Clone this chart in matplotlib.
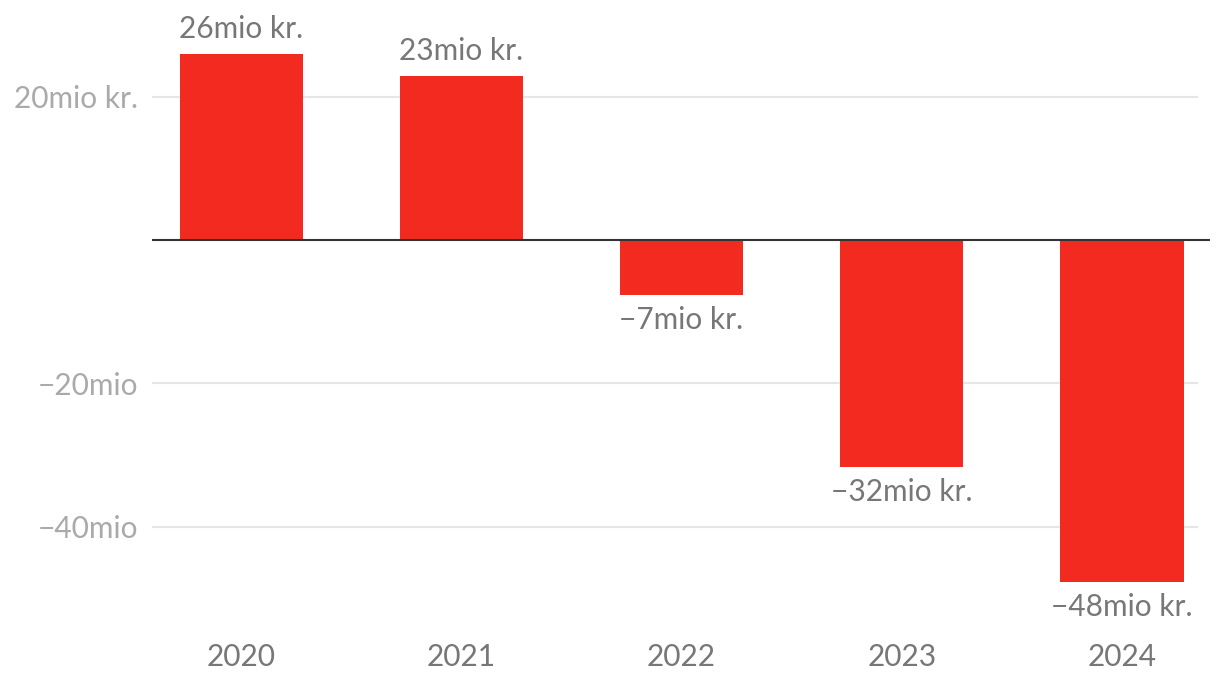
import matplotlib
matplotlib.use('Agg')
import matplotlib.pyplot as plt
import numpy as np

plt.rcParams['font.family'] = ['Lato', 'DejaVu Sans']

years = ['2020', '2021', '2022', '2023', '2024']
values = [25.9, 22.9, -7.6, -31.7, -47.7]
value_labels = ['26mio kr.', '23mio kr.', '−7mio kr.', '−32mio kr.', '−48mio kr.']
y_ticks = [20, -20, -40]
y_tick_labels = ['20mio kr.', '−20mio', '−40mio']

bar_color = '#f22a1f'
label_gray = '#777777'
tick_gray = '#aaaaaa'
fs = 21.5

fig = plt.figure(figsize=(12.2, 6.9), dpi=100)
ax = fig.add_axes([152 / 1220, 60 / 690, (1210 - 152) / 1220, 630 / 690])

x = np.arange(len(years))
ax.bar(x, values, width=0.56, color=bar_color, zorder=2)

for xi, v, lab in zip(x, values, value_labels):
    if v >= 0:
        ax.annotate(lab, (xi, v), xytext=(0, 8), textcoords='offset points',
                    ha='center', va='bottom', fontsize=fs, color=label_gray)
    else:
        ax.annotate(lab, (xi, v), xytext=(0, -8), textcoords='offset points',
                    ha='center', va='top', fontsize=fs, color=label_gray)

ax.set_xlim(-0.405, 4.4)
ax.set_ylim(-54.4, 33.5)

# grid lines
for t in y_ticks:
    ax.axhline(t, color='#e6e6e6', lw=1.5, zorder=0, xmax=0.988)
ax.axhline(0, color='#333333', lw=1.5, zorder=3)

ax.set_yticks(y_ticks)
ax.set_yticklabels(y_tick_labels, fontsize=fs, color=tick_gray)
ax.set_xticks(x)
ax.set_xticklabels(years, fontsize=fs, color=label_gray)
ax.tick_params(axis='y', length=0, pad=10)
ax.tick_params(axis='x', length=0, pad=9)

for s in ax.spines.values():
    s.set_visible(False)

fig.savefig('out.png', dpi=100, facecolor='white')
